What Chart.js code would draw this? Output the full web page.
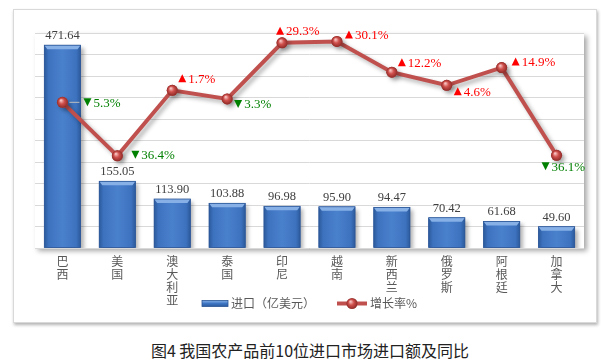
<!DOCTYPE html>
<html>
<head>
<meta charset="utf-8">
<script src="https://cdn.jsdelivr.net/npm/chart.js@4.4.1/dist/chart.umd.min.js"></script>
<style>
  body { margin: 0; background: #fff; width: 602px; height: 362px; position: relative; overflow: hidden; }
  #frame { position: absolute; left: 13px; top: 9px; width: 584px; height: 314px; box-sizing: border-box;
           border: 1px solid #d9d9d9; box-shadow: 1px 2px 3px rgba(0,0,0,0.3); background: #fff; }
  #chart { position: absolute; left: 0; top: 0; }
  #caption { position: absolute; left: 0; top: 338px; width: 620px; text-align: center;
             font: 16px "Noto Sans CJK SC", sans-serif; color: #222; }
</style>
</head>
<body>
<div id="frame"></div>
<canvas id="chart" width="602" height="330"></canvas>
<div id="caption">图4 我国农产品前10位进口市场进口额及同比</div>
<script>
// data
const countries = ['巴西', '美国', '澳大利亚', '泰国', '印尼', '越南', '新西兰', '俄罗斯', '阿根廷', '加拿大'];
const importValues = [471.64, 155.05, 113.90, 103.88, 96.98, 95.90, 94.47, 70.42, 61.68, 49.60];
const growthRates = [-5.3, -36.4, 1.7, -3.3, 29.3, 30.1, 12.2, 4.6, 14.9, -36.1];
const seriesNames = ['进口（亿美元）', '增长率%'];

// where each growth label sits relative to its point (dx, dy)
const growthLabelOffsets = [[21, 0], [14, -1], [6, -12], [7, 5], [-6, -12], [8, -7], [6, -10], [7, 6], [10, -6], [-15, 11]];

const RED = '#c0504d';
const CJK = '"Noto Sans CJK SC", sans-serif';
const SERIF = '"Liberation Serif", "DejaVu Serif", serif';

const plotShadow = {
    id: 'plotShadow',
    beforeDraw(chart) {
        const { ctx, chartArea: a } = chart;
        ctx.save();
        ctx.shadowColor = 'rgba(0,0,0,0.35)';
        ctx.shadowBlur = 5;
        ctx.shadowOffsetX = 3;
        ctx.shadowOffsetY = 3;
        ctx.fillStyle = '#fff';
        ctx.fillRect(a.left, a.top, a.width, a.height);
        ctx.restore();
    }
};

const decorations = {
    id: 'decorations',
    beforeDatasetDraw(chart, args) {
        const ctx = chart.ctx;
        ctx.save();
        ctx.shadowColor = 'rgba(0,0,0,0.3)';
        ctx.shadowBlur = 4;
        ctx.shadowOffsetX = 3;
        ctx.shadowOffsetY = 3;
    },
    afterDatasetDraw(chart, args) {
        const ctx = chart.ctx;
        ctx.restore();
        const meta = args.meta;
        if (meta.type === 'bar') {
            meta.data.forEach((el, i) => {
                const { x, y, width, base } = el.getProps(['x', 'y', 'width', 'base'], true);
                const left = x - width / 2;
                const g = ctx.createLinearGradient(left, 0, left + width, 0);
                g.addColorStop(0, '#2c5a9b');
                g.addColorStop(0.12, '#3d72bf');
                g.addColorStop(0.5, '#4a81cd');
                g.addColorStop(0.88, '#3d72bf');
                g.addColorStop(1, '#2c5a9b');
                ctx.fillStyle = g;
                ctx.fillRect(left, y, width, base - y);
                // top bevel
                ctx.beginPath();
                ctx.moveTo(left, y);
                ctx.lineTo(left + width, y);
                ctx.lineTo(left + width - 3, y + 4);
                ctx.lineTo(left + 3, y + 4);
                ctx.closePath();
                ctx.fillStyle = '#86b0e6';
                ctx.fill();
                ctx.strokeStyle = '#2b5597';
                ctx.lineWidth = 0.8;
                ctx.strokeRect(left, y, width, base - y);
                // value label
                ctx.fillStyle = '#404040';
                ctx.font = '12.5px ' + SERIF;
                ctx.textAlign = 'center';
                ctx.textBaseline = 'alphabetic';
                ctx.fillText(importValues[i].toFixed(2), x, y - 6);
            });
        } else {
            meta.data.forEach((el, i) => {
                const { x, y } = el.getProps(['x', 'y'], true);
                const g = ctx.createRadialGradient(x - 1.5, y - 2, 0.5, x, y, 5.5);
                g.addColorStop(0, '#f6c0be');
                g.addColorStop(0.45, '#d0504c');
                g.addColorStop(1, '#8e2a27');
                ctx.beginPath();
                ctx.arc(x, y, 5.5, 0, Math.PI * 2);
                ctx.fillStyle = g;
                ctx.fill();

                const v = growthRates[i];
                const up = v >= 0;
                const [dx, dy] = growthLabelOffsets[i];
                const tx = x + dx, ty = y + dy;
                if (dx > 18 && dy === 0) {
                    ctx.strokeStyle = '#bfbfbf';
                    ctx.lineWidth = 1;
                    ctx.beginPath();
                    ctx.moveTo(x + 7, y);
                    ctx.lineTo(tx - 4, ty);
                    ctx.stroke();
                }
                ctx.fillStyle = up ? '#ff0000' : '#008000';
                ctx.beginPath();
                if (up) {
                    ctx.moveTo(tx, ty + 4); ctx.lineTo(tx + 8, ty + 4); ctx.lineTo(tx + 4, ty - 4);
                } else {
                    ctx.moveTo(tx, ty - 4); ctx.lineTo(tx + 8, ty - 4); ctx.lineTo(tx + 4, ty + 4);
                }
                ctx.closePath();
                ctx.fill();
                ctx.font = '13px ' + SERIF;
                ctx.textAlign = 'left';
                ctx.textBaseline = 'middle';
                ctx.fillText(Math.abs(v).toFixed(1) + '%', tx + 10, ty + 1);
            });
        }
    },
    afterDraw(chart) {
        // legend, drawn by hand so it can share the row with the axis labels
        const ctx = chart.ctx;
        const ds = chart.data.datasets;
        const barSet = ds.find(d => d.type !== 'line');
        const lineSet = ds.find(d => d.type === 'line');
        const ly = 303.5;
        ctx.save();
        const g = ctx.createLinearGradient(0, ly - 3, 0, ly + 3);
        g.addColorStop(0, '#86b0e6');
        g.addColorStop(0.5, '#3f76c4');
        g.addColorStop(1, '#2c5a9b');
        ctx.fillStyle = g;
        ctx.fillRect(202, ly - 3, 26, 6);
        ctx.strokeStyle = '#2b5597';
        ctx.lineWidth = 0.8;
        ctx.strokeRect(202, ly - 3, 26, 6);

        ctx.font = '12px ' + CJK;
        ctx.fillStyle = '#595959';
        ctx.textAlign = 'left';
        ctx.textBaseline = 'middle';
        ctx.fillText(barSet.label, 231, ly);

        ctx.strokeStyle = RED;
        ctx.lineWidth = 4;
        ctx.beginPath();
        ctx.moveTo(337, ly);
        ctx.lineTo(367, ly);
        ctx.stroke();
        const rg = ctx.createRadialGradient(350.5, ly - 2, 0.5, 352, ly, 5.5);
        rg.addColorStop(0, '#f6c0be');
        rg.addColorStop(0.45, '#d0504c');
        rg.addColorStop(1, '#8e2a27');
        ctx.beginPath();
        ctx.arc(352, ly, 5.5, 0, Math.PI * 2);
        ctx.fillStyle = rg;
        ctx.fill();

        ctx.fillStyle = '#595959';
        ctx.fillText(lineSet.label, 370, ly);
        ctx.restore();
    }
};

new Chart(document.getElementById('chart'), {
    type: 'bar',
    data: {
        labels: countries.map(c => c.split('')),
        datasets: [
            {
                type: 'line',
                label: seriesNames[1],
                data: growthRates,
                yAxisID: 'y1',
                borderColor: RED,
                borderWidth: 4,
                pointRadius: 5.5,
                pointBackgroundColor: RED,
                pointBorderWidth: 0,
                tension: 0,
                order: 0
            },
            {
                label: seriesNames[0],
                data: importValues,
                yAxisID: 'y',
                backgroundColor: '#3f76c4',
                borderColor: '#2b5597',
                borderWidth: 0,
                categoryPercentage: 1,
                barPercentage: 0.66,
                order: 1
            }
        ]
    },
    options: {
        responsive: false,
        animation: false,
        layout: { padding: { left: 35, right: 18, top: 33, bottom: 12 } },
        plugins: {
            legend: { display: false },
            tooltip: { enabled: false }
        },
        scales: {
            x: {
                grid: { display: false, drawTicks: false },
                border: { display: false },
                ticks: {
                    color: '#595959',
                    font: { family: CJK, size: 12, lineHeight: 1.08 },
                    padding: 7,
                    maxRotation: 0,
                    autoSkip: false
                },
                afterFit(scale) { scale.height = 70; }
            },
            y: {
                min: 0,
                max: 500,
                ticks: { display: false, stepSize: 50 },
                grid: { color: '#d9d9d9', drawTicks: false },
                border: { display: false },
                afterFit(scale) { scale.width = 0; }
            },
            y1: {
                position: 'right',
                display: false,
                min: -90,
                max: 35
            }
        }
    },
    plugins: [plotShadow, decorations]
});
</script>
</body>
</html>
